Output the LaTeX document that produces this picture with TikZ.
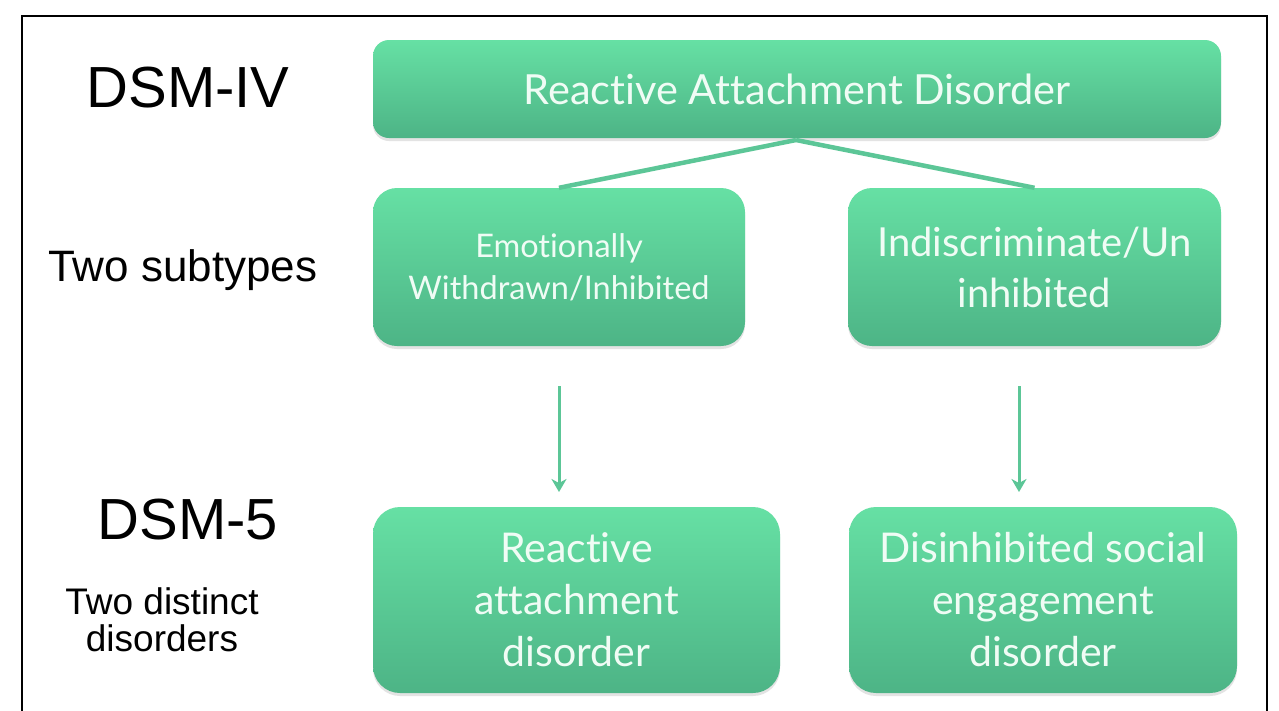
\documentclass[tikz,border=0pt]{standalone}
\usepackage{fontspec}
\usetikzlibrary{shadows,arrows.meta}
\newfontfamily\boxfont[Ligatures=NoCommon]{Lato}
\newfontfamily\lblfont{Liberation Sans}
\definecolor{gtop}{HTML}{66E0A4}
\definecolor{gbot}{HTML}{4DB486}
\definecolor{gline}{HTML}{5CC697}
\definecolor{btext}{HTML}{F0FCF5}
\tikzset{
  gbox/.style={rectangle, rounded corners=24pt, top color=gtop, bottom color=gbot,
    draw=none, align=center, text=btext, font=\boxfont, inner sep=0pt,
    drop shadow={opacity=0.22, shadow xshift=0pt, shadow yshift=-3pt}},
  lbl/.style={font=\lblfont, text=black, align=center, inner sep=0pt},
  conn/.style={draw=gline, line width=4.5pt},
  arr/.style={draw=gline, line width=3pt, -{Stealth[length=13pt,width=15pt,inset=4pt]}}
}
\begin{document}
\begin{tikzpicture}[x=1pt,y=-1pt]
\useasboundingbox (0,0) rectangle (1279,710);
\fill[white] (0,0) rectangle (1279,710);
\draw[line width=1.6pt] (22,712) -- (22,16) -- (1267,16) -- (1267,712);

\node[lbl, font=\lblfont\fontsize{58}{64}\selectfont] (dsm4) at (188,88) {DSM-IV};
\node[lbl, font=\lblfont\fontsize{44}{50}\selectfont] (two) at (183,270) {Two subtypes};
\node[lbl, font=\lblfont\fontsize{58}{64}\selectfont] (dsm5) at (188,520) {DSM-5};
\node[lbl, font=\lblfont\fontsize{37}{37}\selectfont] (distinct) at (162,620) {Two distinct\\disorders};

\node[gbox, rounded corners=16pt, minimum width=848pt, minimum height=98pt,
  font=\boxfont\fontsize{41.5}{46}\selectfont] (rad) at (797,89) {Reactive Attachment Disorder};
\node[gbox, minimum width=372pt, minimum height=158pt,
  font=\boxfont\fontsize{32.5}{42}\selectfont] (ewi) at (559,267) {Emotionally\\Withdrawn/Inhibited};
\node[gbox, minimum width=373pt, minimum height=158pt,
  font=\boxfont\fontsize{40}{51}\selectfont] (iu) at (1034.5,267) {Indiscriminate/Un\\inhibited};
\node[gbox, rounded corners=27pt, minimum width=407pt, minimum height=186pt,
  font=\boxfont\fontsize{41}{52}\selectfont] (rad5) at (576.5,600) {Reactive\\attachment\\disorder};
\node[gbox, rounded corners=27pt, minimum width=388pt, minimum height=186pt,
  font=\boxfont\fontsize{41}{52}\selectfont] (dsed) at (1043,600) {Disinhibited social\\engagement\\disorder};

\coordinate (apex) at (796,140);
\draw[conn] (apex) -- (ewi.north);
\draw[conn] (apex) -- (iu.north);

\coordinate (a1s) at (559,386);
\coordinate (a1e) at (559,492);
\coordinate (a2s) at (1019,386);
\coordinate (a2e) at (1019,492);
\draw[arr] (a1s) -- (a1e);
\draw[arr] (a2s) -- (a2e);
\end{tikzpicture}
\end{document}
